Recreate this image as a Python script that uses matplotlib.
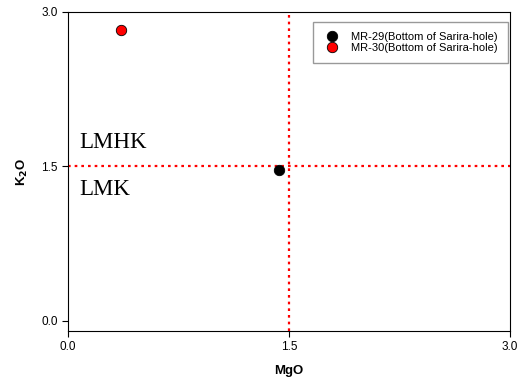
import matplotlib.pyplot as plt

# datos
mgo = [1.43, 0.36]
k2o = [1.46, 2.82]
muestras = ['MR-29(Bottom of Sarira-hole)', 'MR-30(Bottom of Sarira-hole)']
colores = ['black', 'red']
limite = 1.5

plt.rcParams['font.family'] = 'Liberation Sans'

fig = plt.figure(figsize=(5.23, 3.84), dpi=100)
ax = fig.add_axes([0.130, 0.138, 0.845, 0.831])

for x, y, nombre, c in zip(mgo, k2o, muestras, colores):
    ax.plot(x, y, 'o', color=c, markeredgecolor='black', markeredgewidth=0.6,
            markersize=7.5, label=nombre, zorder=3)

ax.axvline(limite, color='red', linestyle=(0, (1.2, 1.8)), linewidth=1.6, zorder=2)
ax.axhline(limite, color='red', linestyle=(0, (1.2, 1.8)), linewidth=1.6, zorder=2)

ax.text(0.075, 1.73, 'LMHK', fontsize=16.5, family='Liberation Serif', va='center')
ax.text(0.075, 1.27, 'LMK', fontsize=16.5, family='Liberation Serif', va='center')

ax.set_xlim(0, 3.0)
ax.set_ylim(-0.1, 3.0)
ax.set_xticks([0.0, 1.5, 3.0])
ax.set_yticks([0.0, 1.5, 3.0])
ax.set_xticklabels(['0.0', '1.5', '3.0'])
ax.set_yticklabels(['0.0', '1.5', '3.0'])
ax.tick_params(direction='out', length=4, labelsize=8.5)
ax.set_xlabel('MgO', fontsize=9.5, fontweight='bold', labelpad=8)
ax.set_ylabel('K$_\\mathbf{2}$O', fontsize=9.5, fontweight='bold', labelpad=8)

ax.legend(loc='upper right', fontsize=8, frameon=True, fancybox=False,
          edgecolor='gray', handletextpad=0.9, borderpad=0.9, borderaxespad=0,
          handlelength=1.6, bbox_to_anchor=(0.995, 0.969), labelspacing=0.1)

plt.savefig('out.png', dpi=100)
